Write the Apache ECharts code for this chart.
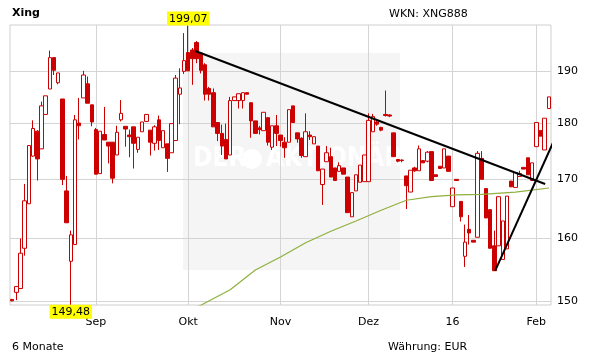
<!DOCTYPE html>
<html><head><meta charset="utf-8">
<script src="https://cdn.jsdelivr.net/npm/echarts@6/dist/echarts.min.js"></script>
<style>html,body{margin:0;padding:0;background:#fff}#c{width:611px;height:364px}</style>
</head><body><div id="c"></div>
<script>
// trading days (Xetra) per month
const aug15 = [4,5,6,7,10,11,12,13,14,17,18,19,20,21,24,25,26,27,28,31];
const sep15 = [1,2,3,4,7,8,9,10,11,14,15,16,17,18,21,22,23,24,25,28,29,30];
const oct15 = [1,2,5,6,7,8,9,12,13,14,15,16,19,20,21,22,23,26,27,28,29,30];
const nov15 = [2,3,4,5,6,9,10,11,12,13,16,17,18,19,20,23,24,25,26,27,30];
const dec15 = [1,2,3,4,7,8,9,10,11,14,15,16,17,18,21,22,23,28,29,30];
const jan16 = [4,5,6,7,8,11,12,13,14,15,18,19,20,21,22,25,26,27,28,29];
const feb16 = [1,2,3,4];

const monthStarts = ['2015-09-01','2015-10-01','2015-11-02','2015-12-01','2016-01-04','2016-02-01'];
const monthLabels = ['Sep','Okt','Nov','Dez','16','Feb'];
const yTicks = [150,160,170,180,190];

const opens = [150.3,151.4,152.0,158.4,165.8,174.1,178.6,175.4,181.7,186.5,
192.6,187.7,184.6,168.0,156.3,159.0,180.1,184.8,187.5,183.5,
178.9,171.0,178.0,176.6,176.6,174.3,180.7,179.5,177.9,179.4,
175.3,178.5,180.4,178.8,176.4,180.7,175.6,176.3,174.7,176.9,
185.5,189.9,193.6,194.1,195.6,193.5,191.2,186.6,185.8,180.2,
178.2,177.1,174.3,184.3,184.3,184.3,185.8,183.9,180.5,179.2,
178.7,181.1,175.7,179.6,177.9,176.6,176.6,183.3,178.3,177.3,
174.0,177.9,176.3,175.9,169.1,173.1,174.0,172.0,171.4,172.0,
170.4,163.6,168.0,169.5,169.6,169.6,178.5,180.3,179.3,181.7,
181.6,178.3,173.5,173.4,170.6,167.8,172.0,171.5,173.3,173.2,
174.9,170.8,172.3,172.0,174.1,165.3,170.0,166.2,157.1,161.5,
159.7,160.2,173.7,168.4,164.8,158.8,158.8,156.6,158.3,169.7,
168.6,170.5,172.1,173.8,169.8,175.8,178.7,175.2,182.8];
const closes = [150.1,152.3,157.6,166.3,176.0,179.1,173.6,183.3,185.2,192.6,
190.1,189.6,170.0,162.6,160.6,180.7,179.6,189.2,183.8,180.3,
170.9,178.6,177.0,175.9,170.2,178.4,181.9,179.0,177.6,176.4,
177.5,180.3,181.7,176.6,179.4,176.9,178.7,173.7,180.0,188.6,
186.7,192.0,190.0,192.4,192.4,190.1,185.5,185.5,179.4,178.2,
175.9,173.6,184.3,185.0,185.6,185.8,185.5,180.5,178.2,178.9,
182.1,176.6,179.6,178.2,176.9,175.6,182.6,180.2,177.2,174.2,
178.5,177.6,177.6,171.5,171.8,174.7,170.4,169.8,172.4,170.9,
164.3,167.7,170.8,172.5,174.3,180.6,181.3,179.9,178.8,181.5,
181.4,174.0,173.2,173.3,168.9,171.6,171.5,175.4,172.9,174.8,
169.8,170.5,171.9,175.4,171.4,168.5,169.8,163.6,159.4,160.9,
159.4,174.6,170.0,163.4,158.4,154.8,167.0,162.9,167.1,168.7,
171.2,171.0,171.8,170.8,172.9,180.2,177.7,181.0,185.0];
const lows = [150.0,150.2,152.0,157.2,165.8,174.0,169.8,175.4,181.7,186.5,
189.2,187.4,169.0,162.6,149.48,159.0,177.1,184.8,183.8,179.5,
170.9,171.0,177.0,172.8,169.3,174.3,180.4,175.8,173.9,171.9,
174.7,178.5,180.4,174.2,175.1,175.2,175.6,171.3,174.7,176.9,
179.9,189.4,190.0,187.3,191.5,189.5,184.3,184.3,179.4,176.8,
174.3,173.6,174.3,184.3,182.8,182.8,185.5,177.4,178.2,178.0,
178.7,176.0,175.2,175.9,175.8,173.8,176.6,180.2,176.5,173.8,
174.0,177.0,176.3,171.5,165.6,173.1,170.4,169.8,171.4,170.9,
164.3,163.6,168.0,169.5,169.6,169.6,178.5,179.6,178.6,181.3,
181.2,174.0,173.0,173.0,164.9,167.8,171.3,171.5,172.9,173.0,
169.8,170.5,171.9,172.0,171.4,165.3,169.8,162.8,155.4,159.0,
159.4,160.2,170.0,163.4,158.4,154.8,158.8,156.6,158.3,168.7,
168.6,170.5,171.8,170.8,169.8,175.8,177.7,175.2,182.8];
const highs = [150.4,152.4,160.0,169.2,176.0,180.6,178.8,184.1,185.2,194.0,
192.6,189.6,184.6,170.6,161.3,181.6,184.8,190.0,188.9,183.5,
179.2,178.6,183.1,176.6,176.6,179.6,184.4,179.5,178.9,179.4,
177.5,180.3,181.7,178.8,179.7,181.5,178.7,176.3,180.0,189.2,
190.5,197.5,199.07,194.5,195.9,193.5,191.5,186.9,186.6,180.2,
179.8,180.0,185.0,185.0,185.6,185.8,185.8,183.9,180.5,179.6,
182.1,181.1,179.6,181.6,177.9,177.5,182.6,183.3,178.3,177.5,
181.9,178.6,177.6,175.9,171.8,175.9,175.6,172.0,173.0,172.0,
170.4,167.7,170.8,172.5,174.3,181.9,181.8,180.5,179.4,186.2,
181.7,178.3,173.6,173.5,170.6,171.6,172.2,176.0,173.3,175.0,
174.9,170.8,172.3,175.4,174.1,168.5,170.0,166.2,162.3,163.9,
159.7,175.0,175.0,168.4,164.8,161.3,167.0,162.9,167.1,169.7,
171.2,171.5,172.1,173.8,172.9,180.2,178.7,181.0,185.0];

// moving average readings (index, value)
const maIdx = [40,45,52,58,64,70,76,82,88,94,100,106,112,120,128];
const maVal = [148.2,149.4,151.8,154.9,157.0,159.3,161.2,162.9,164.7,166.4,167.0,167.3,167.4,167.8,168.5];

// trend lines: [index, value]
const trend1 = [[43.7,193.9],[127.1,169.2]];
const trend2 = [[115.2,154.8],[129.4,177.2]];

const pad = n => (n < 10 ? '0' : '') + n;
const categories = [].concat(
  aug15.map(d => '2015-08-' + pad(d)), sep15.map(d => '2015-09-' + pad(d)),
  oct15.map(d => '2015-10-' + pad(d)), nov15.map(d => '2015-11-' + pad(d)),
  dec15.map(d => '2015-12-' + pad(d)), jan16.map(d => '2016-01-' + pad(d)),
  feb16.map(d => '2016-02-' + pad(d)));
const labelMap = {};
monthStarts.forEach((d, i) => labelMap[d] = monthLabels[i]);

const candleData = opens.map((o, i) => [o, closes[i], lows[i], highs[i]]);
const maData = categories.map(() => null);
maIdx.forEach((ix, k) => maData[ix] = maVal[k]);

let maxI = 0, minI = 0;
highs.forEach((h, i) => { if (h > highs[maxI]) maxI = i; });
lows.forEach((l, i) => { if (l < lows[minI]) minI = i; });
const fmt = v => v.toFixed(2).replace('.', ',');

const FONT = 'DejaVu Sans';
const RED = '#cc0000';
const GRIDC = '#d4d4d4';

const chart = echarts.init(document.getElementById('c'), null, {renderer: 'canvas'});
chart.setOption({
  animation: false,
  grid: {left: 10, right: 60, top: 25, bottom: 59, show: true, borderColor: '#cfcfcf', borderWidth: 1, backgroundColor: 'transparent'},
  xAxis: [{
    type: 'category', data: categories, boundaryGap: true,
    axisLine: {show: false}, axisTick: {show: false}, splitLine: {show: false},
    axisLabel: {interval: (i, v) => labelMap[v] !== undefined, formatter: v => labelMap[v] || '',
      margin: 12, color: '#000', fontFamily: FONT, fontSize: 11}
  }, {
    type: 'value', min: -0.5, max: categories.length - 0.5, show: false
  }],
  yAxis: {type: 'log', min: 149.45, max: 199.15, axisLine: {show: false}, axisTick: {show: false},
    axisLabel: {show: false}, splitLine: {show: false}},
  graphic: [
    {type: 'rect', left: 183, top: 53, shape: {width: 217, height: 217}, style: {fill: '#f5f5f5'}, z: -10, silent: true},
    {type: 'text', left: 193, top: 146, style: {text: 'DER', fill: '#ffffff', font: 'bold 26px "DejaVu Sans Condensed", "DejaVu Sans"'}, z: -9},
    {type: 'circle', shape: {cx: 252, cy: 159, r: 10}, style: {fill: '#ffffff'}, z: -9},
    {type: 'text', left: 266, top: 146, style: {text: 'AKTIONÄR', fill: '#ffffff', font: 'bold 26px "DejaVu Sans Condensed", "DejaVu Sans"'}, z: -9},
    {type: 'text', left: 12, top: 8, style: {text: 'Xing', fill: '#000', font: 'bold 11px "DejaVu Sans"'}},
    {type: 'text', left: 389, top: 9, style: {text: 'WKN: XNG888', fill: '#000', font: '11px "DejaVu Sans"'}},
    {type: 'text', left: 12, top: 342, style: {text: '6 Monate', fill: '#000', font: '11px "DejaVu Sans"'}},
    {type: 'text', left: 388, top: 342, style: {text: 'Währung: EUR', fill: '#000', font: '11px "DejaVu Sans"'}}
  ],
  series: [
    {
      type: 'line', data: [], z: 1, silent: true,
      markLine: {
        z: 1, silent: true, symbol: ['none', 'none'], animation: false,
        lineStyle: {color: GRIDC, width: 1, type: 'solid'},
        label: {show: true, position: 'end', distance: 6, color: '#000', fontFamily: FONT, fontSize: 11, formatter: p => String(p.value)},
        data: yTicks.map(v => ({yAxis: v})).concat(monthStarts.map(d => ({xAxis: d, label: {show: false}})))
      }
    },
    {
      type: 'candlestick', data: candleData, z: 2, barWidth: 4, barMinWidth: 4, barMaxWidth: 5,
      itemStyle: {color: '#ffffff', color0: RED, borderColor: RED, borderColor0: RED, borderWidth: 1},
      markPoint: {
        symbol: 'rect', symbolSize: 0, animation: false,
        label: {show: true, formatter: '{b}', backgroundColor: '#ffff00', color: '#000', fontFamily: FONT, fontSize: 11, padding: [2, 2, 1, 2]},
        data: [
          {name: fmt(highs[maxI]), coord: [categories[maxI], highs[maxI]], label: {position: 'top', distance: 0}},
          {name: fmt(lows[minI]), coord: [categories[minI], lows[minI]], label: {position: 'bottom', distance: 0}}
        ]
      }
    },
    {
      type: 'line', data: maData, connectNulls: true, symbol: 'none', z: 3,
      lineStyle: {color: '#8fb03c', width: 1.2}
    },
    {
      type: 'line', xAxisIndex: 1, data: trend1, symbol: 'none', z: 4, clip: false,
      lineStyle: {color: '#000', width: 2}
    },
    {
      type: 'line', xAxisIndex: 1, data: trend2, symbol: 'none', z: 4, clip: false,
      lineStyle: {color: '#000', width: 2}
    }
  ]
});
</script></body></html>
